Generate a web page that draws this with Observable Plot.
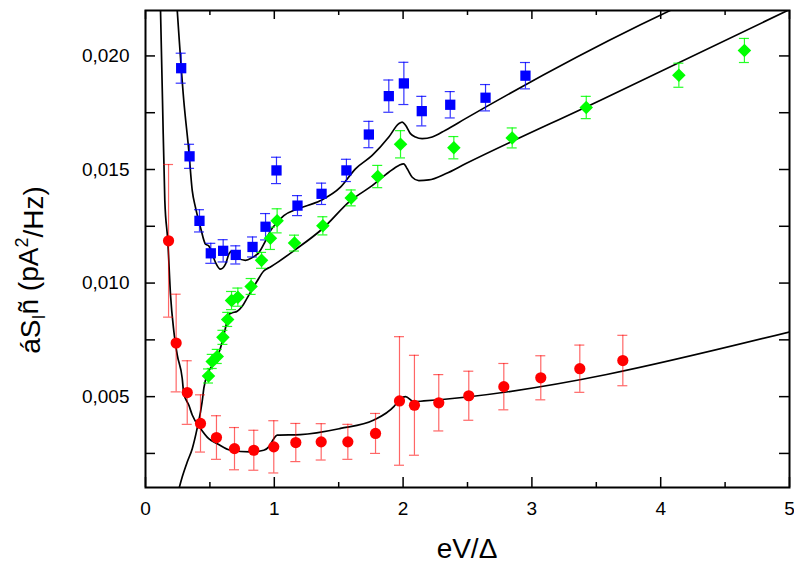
<!DOCTYPE html>
<html><head><meta charset="utf-8">
<script src="https://cdn.jsdelivr.net/npm/d3@7"></script>
<script src="https://cdn.jsdelivr.net/npm/@observablehq/plot@0.6"></script>
<style>body{margin:0;background:#fff}#chart{width:794px;height:570px}</style>
</head><body><div id="chart"></div>
<script>
// ---- measured data ----
const blueX = [0.277,0.342,0.419,0.507,0.603,0.701,0.831,0.932,1.017,1.18,1.367,1.56,1.734,1.889,2.006,2.145,2.366,2.64,2.95];
const blueY = [0.01946,0.01558,0.01274,0.01131,0.01142,0.01124,0.01159,0.01248,0.01496,0.01341,0.01393,0.01496,0.01654,0.01823,0.01879,0.01757,0.01785,0.01816,0.01913];
const blueErr = [0.00066,0.00053,0.00049,0.00044,0.00049,0.0004,0.00044,0.00058,0.00058,0.00044,0.00047,0.00049,0.00058,0.00071,0.00093,0.00065,0.00058,0.00058,0.00058];

const greenX = [0.489,0.518,0.557,0.601,0.638,0.668,0.717,0.82,0.901,0.97,1.022,1.157,1.377,1.597,1.803,1.98,2.394,2.847,3.422,4.141,4.65];
const greenY = [0.00591,0.00655,0.00677,0.00761,0.0084,0.00923,0.00938,0.00985,0.011,0.01197,0.01274,0.01176,0.01252,0.01375,0.01469,0.01611,0.01596,0.01639,0.01773,0.01915,0.02024];
const greenErr = [0.00031,0.00031,0.00031,0.00031,0.00031,0.0004,0.0004,0.00035,0.00035,0.00049,0.00053,0.00035,0.0004,0.00035,0.00049,0.0006,0.00049,0.00044,0.00049,0.00053,0.00053];

const redX = [0.179,0.238,0.324,0.427,0.551,0.691,0.841,0.996,1.167,1.364,1.571,1.786,1.972,2.088,2.277,2.51,2.782,3.069,3.372,3.706];
const redY = [0.01186,0.00736,0.00518,0.00382,0.0032,0.00271,0.00264,0.00279,0.00298,0.00301,0.00301,0.00338,0.00481,0.00462,0.00473,0.00504,0.00544,0.00583,0.00623,0.00659];
const redErr = [0.00336,0.00215,0.0014,0.00126,0.00096,0.00093,0.00088,0.00115,0.00084,0.0008,0.00077,0.00088,0.00283,0.0022,0.00124,0.00108,0.00102,0.00097,0.00104,0.00111];

// theory curves
const fitBlueX = [0.246,0.297,0.336,0.363,0.388,0.427,0.466,0.491,0.505,0.544,0.582,0.621,0.647,0.673,0.712,0.776,0.828,0.88,0.932,0.97,1.022,1.074,1.178,1.359,1.514,1.63,1.76,1.889,1.967,1.993,2.019,2.057,2.096,2.148,2.226,2.329,2.484,3.843,4.089];
const fitBlueY = [0.02204,0.01805,0.01584,0.01407,0.01333,0.01245,0.01171,0.01164,0.01149,0.0109,0.01061,0.01083,0.01127,0.01142,0.01112,0.011,0.01112,0.01134,0.01186,0.0123,0.01267,0.01297,0.01326,0.01363,0.01422,0.01503,0.01562,0.01643,0.01702,0.01709,0.01695,0.01658,0.01643,0.01636,0.01643,0.01673,0.01724,0.02137,0.02204];

const fitGreenX = [0.259,0.285,0.324,0.363,0.401,0.44,0.453,0.491,0.543,0.582,0.621,0.647,0.673,0.712,0.751,0.79,0.828,0.867,0.918,0.97,1.022,1.151,1.372,1.592,1.76,1.889,1.967,2.005,2.032,2.071,2.122,2.2,2.329,2.484,3.533,5.0];
const fitGreenY = [0.00093,0.00146,0.00212,0.00271,0.0036,0.00478,0.00537,0.00611,0.00655,0.00714,0.00802,0.00862,0.00869,0.00876,0.00898,0.00935,0.00972,0.01009,0.01053,0.01071,0.0109,0.01142,0.01238,0.01363,0.01429,0.01488,0.01518,0.01525,0.01503,0.01466,0.01451,0.01454,0.01481,0.01525,0.01805,0.02204];

const fitRedX = [0.1165,0.132,0.15,0.173,0.194,0.22,0.246,0.285,0.297,0.336,0.363,0.427,0.491,0.557,0.66,0.815,0.918,0.957,0.996,1.022,1.203,1.514,1.773,1.928,1.98,2.019,2.083,2.161,5.0];
const fitRedY = [0.02204,0.01805,0.01363,0.01186,0.0095,0.00788,0.00685,0.00581,0.00515,0.00463,0.00419,0.0036,0.00315,0.00293,0.00264,0.00257,0.00264,0.00279,0.00315,0.00331,0.00333,0.0036,0.00397,0.00456,0.00492,0.005,0.00478,0.00481,0.00785];

const xMajor = [0,1,2,3,4,5];
const xMinor = [0.5,1.5,2.5,3.5,4.5];
const yTicks = [0.0025,0.005,0.0075,0.01,0.0125,0.015,0.0175,0.02];
const yLabels = [0.005,0.01,0.015,0.02];

// ---- layout ----
const W = 794, H = 570, mL = 145, mR = 5, mT = 10, mB = 83;
const xDom = [0,5], yDom = [0.001,0.022];
const xpp = (xDom[1]-xDom[0])/(W-mL-mR);
const ypp = (yDom[1]-yDom[0])/(H-mT-mB);

const pts = (X,Y,E) => X.map((x,i)=>({x, y:Y[i], e:E[i]}));
const line = (X,Y) => X.map((x,i)=>({x, y:Y[i]}));
const blue = pts(blueX,blueY,blueErr), green = pts(greenX,greenY,greenErr), red = pts(redX,redY,redErr);

function errBars(data, color, op) {
  const cw = 5*xpp;
  return [
    Plot.ruleX(data, {x:"x", y1:d=>d.y-d.e, y2:d=>d.y+d.e, stroke:color, strokeOpacity:op, strokeWidth:1.2}),
    Plot.ruleY(data, {y:d=>d.y-d.e, x1:d=>d.x-cw, x2:d=>d.x+cw, stroke:color, strokeOpacity:op, strokeWidth:1.2}),
    Plot.ruleY(data, {y:d=>d.y+d.e, x1:d=>d.x-cw, x2:d=>d.x+cw, stroke:color, strokeOpacity:op, strokeWidth:1.2})
  ];
}
const fmt = d => d3.format(".3f")(d).replace(".", ",");

const chart = Plot.plot({
  width: W, height: H,
  marginLeft: mL, marginRight: mR, marginTop: mT, marginBottom: mB,
  x: {domain: xDom},
  y: {domain: yDom},
  style: {fontFamily: "'Liberation Sans', Arial, sans-serif", fontSize: "19px", color: "#000", background: "#fff"},
  marks: [
    Plot.line(line(fitBlueX,fitBlueY), {x:"x", y:"y", curve:"monotone-x", stroke:"#000", strokeWidth:1.7, clip:true}),
    Plot.line(line(fitGreenX,fitGreenY), {x:"x", y:"y", curve:"monotone-x", stroke:"#000", strokeWidth:1.7, clip:true}),
    Plot.line(line(fitRedX,fitRedY), {x:"x", y:"y", curve:"monotone-x", stroke:"#000", strokeWidth:1.7, clip:true}),
    ...errBars(blue, "#0000ff", 0.8),
    ...errBars(green, "#00ff00", 0.85),
    ...errBars(red, "#ff0000", 0.6),
    Plot.dot(blue, {x:"x", y:"y", symbol:"square", r:5.8, fill:"#0000ff"}),
    Plot.dot(green, {x:"x", y:"y", symbol:"diamond2", r:6.1, fill:"#00ff00"}),
    Plot.dot(red, {x:"x", y:"y", symbol:"circle", r:5.6, fill:"#ff0000"}),
    // inward ticks
    Plot.ruleX(xMajor, {x:d=>d, y1:yDom[0], y2:yDom[0]+10*ypp, stroke:"#000", strokeWidth:1.5}),
    Plot.ruleX(xMinor, {x:d=>d, y1:yDom[0], y2:yDom[0]+5*ypp, stroke:"#000", strokeWidth:1.5}),
    Plot.ruleX(xMajor, {x:d=>d, y1:yDom[1], y2:yDom[1]-9*ypp, stroke:"#000", strokeWidth:1.5}),
    Plot.ruleX(xMinor, {x:d=>d, y1:yDom[1], y2:yDom[1]-5*ypp, stroke:"#000", strokeWidth:1.5}),
    Plot.ruleY(yTicks, {y:d=>d, x1:xDom[0], x2:xDom[0]+10*xpp, stroke:"#000", strokeWidth:1.5}),
    Plot.ruleY(yTicks, {y:d=>d, x1:xDom[1], x2:xDom[1]-10*xpp, stroke:"#000", strokeWidth:1.5}),
    Plot.frame({stroke:"#000", strokeWidth:2}),
    Plot.axisX(xMajor, {tickSize:0, tickPadding:14, tickFormat:d=>String(d), label:null}),
    Plot.axisY(yLabels, {tickSize:0, tickPadding:16, tickFormat:fmt, label:null})
  ]
});
document.getElementById("chart").appendChild(chart);

// axis titles
const svg = d3.select(chart);
svg.append("text")
  .attr("x", (mL + W - mR)/2).attr("y", 558)
  .attr("text-anchor", "middle")
  .style("font-size", "28px").style("font-family", "'Liberation Sans', Arial, sans-serif")
  .text("eV/Δ");
const yt = svg.append("text")
  .attr("transform", "translate(40,270) rotate(-90)")
  .attr("text-anchor", "middle")
  .style("font-size", "28px").style("font-family", "'Liberation Sans', Arial, sans-serif");
yt.append("tspan").text("áS");
yt.append("tspan").attr("dy", "0.25em").style("font-size", "18px").text("I");
yt.append("tspan").attr("dy", "-0.25em").text("ñ (pA");
yt.append("tspan").attr("dy", "-0.55em").style("font-size", "18px").text("2");
yt.append("tspan").attr("dy", "0.55em").text("/Hz)");
</script>
</body></html>
